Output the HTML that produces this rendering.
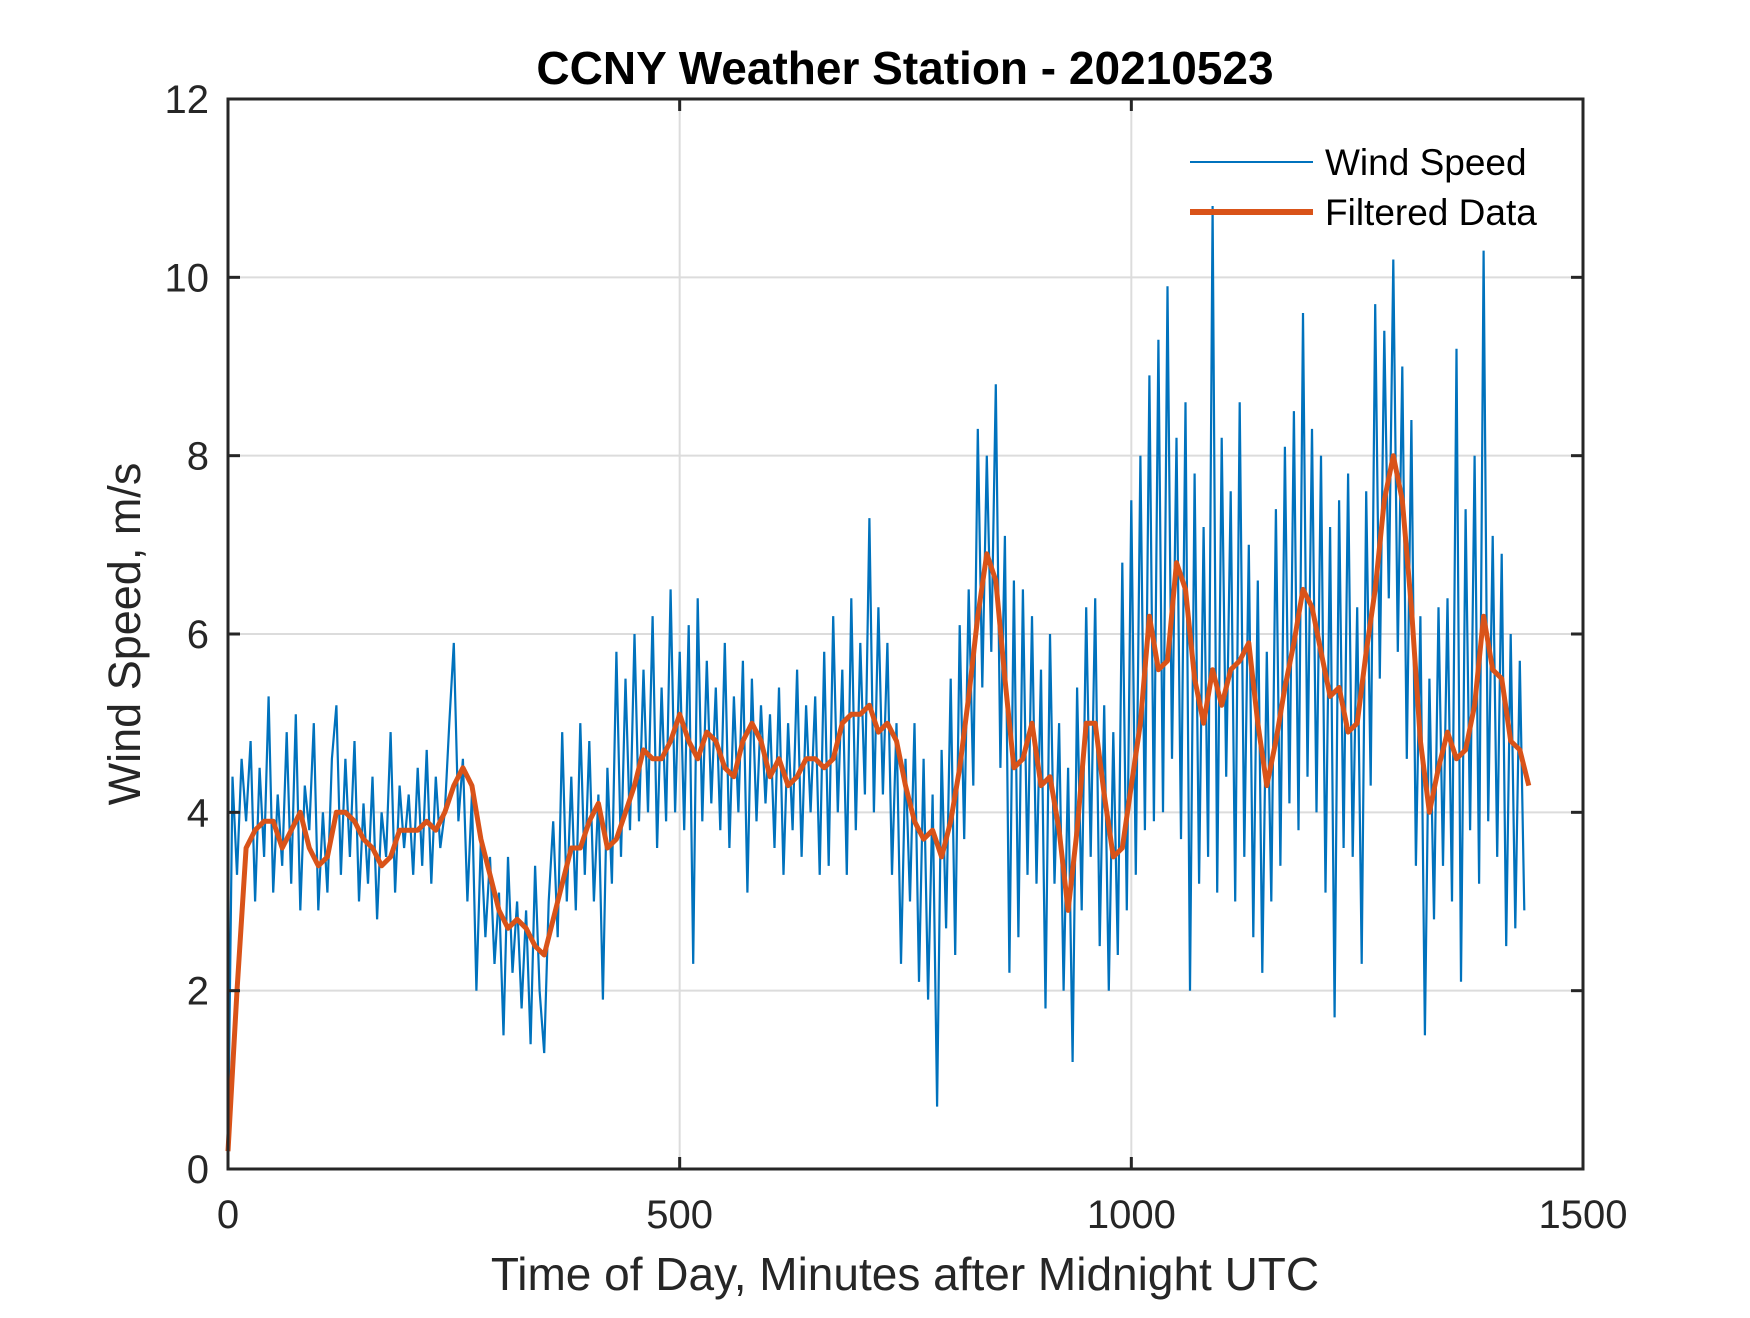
<!DOCTYPE html>
<html><head><meta charset="utf-8"><style>
html,body{margin:0;padding:0;background:#fff;}
svg text{font-family:"Liberation Sans",Arial,sans-serif;fill:#262626;}
</style></head><body>
<svg id="chart" width="1750" height="1313" xmlns="http://www.w3.org/2000/svg">
<rect width="1750" height="1313" fill="#fff"/>
<g id="grid"></g>
<g id="series"></g>
<g id="axes"></g>
<text x="905" y="84" text-anchor="middle" font-size="46" font-weight="bold" style="fill:#000">CCNY Weather Station - 20210523</text>
<text x="905" y="1290" text-anchor="middle" font-size="46">Time of Day, Minutes after Midnight UTC</text>
<text transform="translate(140,634) rotate(-90)" text-anchor="middle" font-size="45">Wind Speed, m/s</text>
<g>
<line x1="1190" y1="162" x2="1313" y2="162" stroke="#0072BD" stroke-width="2"/>
<text x="1325" y="175" font-size="37" style="fill:#000">Wind Speed</text>
<line x1="1190" y1="212" x2="1313" y2="212" stroke="#D95319" stroke-width="6"/>
<text x="1325" y="225" font-size="37" style="fill:#000">Filtered Data</text>
</g>
</svg>
<script>
const xTicks=[0,500,1000,1500];
const yTicks=[0,2,4,6,8,10,12];
const windStep=5;
const windSpeed=[
0.2,4.4,3.3,4.6,3.9,4.8,3.0,4.5,3.5,5.3,3.1,4.2,
3.4,4.9,3.2,5.1,2.9,4.3,3.8,5.0,2.9,4.0,3.1,4.6,
5.2,3.3,4.6,3.5,4.8,3.0,4.1,3.2,4.4,2.8,4.0,3.5,
4.9,3.1,4.3,3.6,4.2,3.3,4.5,3.4,4.7,3.2,4.4,3.6,
4.0,5.0,5.9,3.9,4.6,3.0,4.2,2.0,3.7,2.6,3.5,2.3,
3.1,1.5,3.5,2.2,3.0,1.8,2.9,1.4,3.4,2.0,1.3,3.0,
3.9,2.6,4.9,3.0,4.4,2.9,5.0,3.3,4.8,3.0,4.2,1.9,
4.5,3.2,5.8,3.5,5.5,3.8,6.0,3.9,5.6,4.0,6.2,3.6,
5.4,3.9,6.5,4.0,5.8,3.8,6.1,2.3,6.4,3.9,5.7,4.1,
5.4,3.8,5.9,3.6,5.3,4.0,5.7,3.1,5.5,3.9,5.2,4.1,
5.1,3.6,5.4,3.3,5.0,3.8,5.6,3.5,5.2,4.0,5.3,3.3,
5.8,3.4,6.2,4.0,5.6,3.3,6.4,3.8,5.9,4.2,7.3,4.0,
6.3,4.2,5.9,3.3,5.0,2.3,4.6,3.0,5.0,2.1,4.6,1.9,
4.2,0.7,4.7,2.7,5.5,2.4,6.1,3.7,6.5,4.3,8.3,5.4,
8.0,5.8,8.8,4.5,7.1,2.2,6.6,2.6,6.5,3.3,6.2,3.2,
5.6,1.8,6.0,3.2,5.0,2.0,4.5,1.2,5.4,2.9,6.3,3.5,
6.4,2.5,5.2,2.0,4.9,2.4,6.8,2.9,7.5,3.3,8.0,3.8,
8.9,3.9,9.3,4.0,9.9,4.6,8.2,3.7,8.6,2.0,7.8,3.2,
7.2,3.5,10.8,3.1,8.2,4.4,7.6,3.0,8.6,3.5,7.0,2.6,
6.6,2.2,5.8,3.0,7.4,3.4,8.1,4.1,8.5,3.8,9.6,4.4,
8.3,4.0,8.0,3.1,7.2,1.7,7.5,3.6,7.8,3.5,6.3,2.3,
7.6,4.3,9.7,5.5,9.4,6.4,10.2,5.8,9.0,4.6,8.4,3.4,
6.2,1.5,5.5,2.8,6.3,3.4,6.4,3.0,9.2,2.1,7.4,3.8,
8.0,3.2,10.3,3.9,7.1,3.5,6.9,2.5,6.0,2.7,5.7,2.9];
const filtStep=10;
const filtered=[0.2,2.0,3.6,3.8,3.9,3.9,3.6,3.8,4.0,3.6,3.4,3.5,4.0,4.0,3.9,3.7,3.6,3.4,3.5,3.8,3.8,3.8,3.9,3.8,4.0,4.3,4.5,4.3,3.7,3.3,2.9,2.7,2.8,2.7,2.5,2.4,2.8,3.2,3.6,3.6,3.9,4.1,3.6,3.7,4.0,4.3,4.7,4.6,4.6,4.8,5.1,4.8,4.6,4.9,4.8,4.5,4.4,4.8,5.0,4.8,4.4,4.6,4.3,4.4,4.6,4.6,4.5,4.6,5.0,5.1,5.1,5.2,4.9,5.0,4.8,4.3,3.9,3.7,3.8,3.5,3.9,4.5,5.3,6.2,6.9,6.6,5.5,4.5,4.6,5.0,4.3,4.4,3.8,2.9,3.8,5.0,5.0,4.2,3.5,3.6,4.3,5.0,6.2,5.6,5.7,6.8,6.5,5.5,5.0,5.6,5.2,5.6,5.7,5.9,5.0,4.3,4.8,5.4,5.9,6.5,6.3,5.8,5.3,5.4,4.9,5.0,5.8,6.5,7.5,8.0,7.5,6.3,4.8,4.0,4.5,4.9,4.6,4.7,5.2,6.2,5.6,5.5,4.8,4.7,4.3];

const L=228,R=1583,T=99,B=1169;
const xs=t=>L+(t-0)*(R-L)/1500;
const ys=v=>B-v*(B-T)/12;
const NS='http://www.w3.org/2000/svg';
function mk(tag,attrs,parent){const e=document.createElementNS(NS,tag);for(const k in attrs)e.setAttribute(k,attrs[k]);parent.appendChild(e);return e;}
const grid=document.getElementById('grid'),axes=document.getElementById('axes'),series=document.getElementById('series');
xTicks.forEach(t=>{
  if(t>0&&t<1500){const g=mk('line',{x1:xs(t),x2:xs(t),y1:T,y2:B,stroke:'#dcdcdc','stroke-width':2},grid);
  
  }
  const a=mk('line',{x1:xs(t),x2:xs(t),y1:B,y2:B-12,stroke:'#262626','stroke-width':3},axes);
  
  
  const b=mk('line',{x1:xs(t),x2:xs(t),y1:T,y2:T+12,stroke:'#262626','stroke-width':3},axes);
  
  
  const lb=mk('text',{x:xs(t),y:1228,'text-anchor':'middle','font-size':40},axes);
  lb.textContent=t;
  
  
});
yTicks.forEach(v=>{
  if(v>0&&v<12){const g=mk('line',{x1:L,x2:R,y1:ys(v),y2:ys(v),stroke:'#dcdcdc','stroke-width':2},grid);
  
  }
  const a=mk('line',{x1:L,x2:L+12,y1:ys(v),y2:ys(v),stroke:'#262626','stroke-width':3},axes);
  
  
  const b=mk('line',{x1:R,x2:R-12,y1:ys(v),y2:ys(v),stroke:'#262626','stroke-width':3},axes);
  
  
  const lb=mk('text',{x:209,y:ys(v)+14,'text-anchor':'end','font-size':40},axes);
  lb.textContent=v;
  
  
});
const box=mk('rect',{x:L,y:T,width:R-L,height:B-T,fill:'none',stroke:'#262626','stroke-width':3},axes);


const wp=windSpeed.map((v,i)=>xs(i*windStep).toFixed(1)+','+ys(v).toFixed(1)).join(' ');
const w=mk('polyline',{points:wp,fill:'none',stroke:'#0072BD','stroke-width':2.2,'stroke-linejoin':'miter'},series);


const fp=filtered.map((v,i)=>xs(i*filtStep).toFixed(1)+','+ys(v).toFixed(1)).join(' ');
const f=mk('polyline',{points:fp,fill:'none',stroke:'#D95319','stroke-width':5,'stroke-linejoin':'round'},series);


</script>
</body></html>
